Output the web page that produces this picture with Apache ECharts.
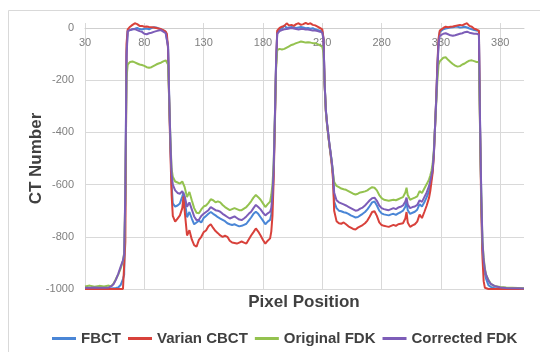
<!DOCTYPE html>
<html>
<head>
<meta charset="utf-8">
<script src="https://cdn.jsdelivr.net/npm/echarts@6/dist/echarts.min.js"></script>
<style>
  html, body { margin: 0; padding: 0; background: #ffffff; }
  #chart { width: 540px; height: 352px; }
</style>
</head>
<body>
<div id="chart"></div>
<script>
// Line profile across the phantom: CT number per pixel position for four reconstructions.

const pixelPos = [
  30, 34, 38, 42, 46, 50, 52, 54, 56, 58, 60, 62, 63, 64, 65,
  66, 68, 70, 72, 74, 76, 78, 80, 82, 84, 86, 88, 90, 92, 94, 96, 98, 99, 100, 101, 102, 103,
  104, 106, 108, 110, 112, 113, 114, 116, 118, 120, 122, 124, 126, 128, 130, 132, 134, 136, 138, 140,
  142, 144, 146, 148, 150, 152, 154, 156, 158, 160, 162, 164, 166, 168, 170, 172, 174, 176, 178, 180, 182, 184, 186,
  187, 188, 189, 190, 191,
  192, 194, 196, 198, 200, 202, 204, 206, 208, 210, 212, 214, 216, 218, 220, 222, 224, 226, 228, 230,
  231, 232, 233, 234, 235, 236, 237, 238, 239,
  240, 242, 244, 246, 248, 250, 252, 254, 256, 258, 260, 262, 264, 266, 268, 270, 272, 274, 276, 278, 280,
  282, 284, 286, 288, 290, 292, 294, 296, 298, 300, 301, 302, 304, 306, 308, 310, 312, 314, 316, 318, 320,
  321, 322, 323, 324, 325, 326, 327, 328, 329,
  330, 332, 334, 336, 338, 340, 342, 344, 346, 348, 350, 352, 354, 356, 358, 360, 362,
  363, 364, 365, 366, 367, 368, 370, 372, 375, 380, 385, 390, 395, 400
];

const fbct = [
  -998, -998, -997, -998, -998, -997, -998, -997, -996, -994, -985, -962, -945, -650, -90,
  -10, -8, -5, -3, 0, -4, -6, -3, -2, -5, 0, 3, 2, -2, -5, -10, -15, -22, -70, -280, -450, -600,
  -672, -684, -680, -672, -645, -630, -660, -725, -705, -730, -752, -745, -738, -745, -728, -720, -712, -705, -712, -718,
  -725, -730, -735, -740, -748, -752, -755, -752, -756, -760, -758, -754, -750, -738, -726, -712, -704, -712, -725, -738, -752, -742, -735,
  -715, -660, -550, -360, -140,
  -18, -5, -2, 10, 0, 2, 4, 2, 0, 2, 4, 2, -1, 0, -3, -1, -5, -8, -10, -12,
  -40, -215, -315, -365, -405, -445, -478, -515, -560,
  -665, -690, -700, -702, -706, -708, -712, -718, -722, -726, -724, -718, -712, -705, -695, -682, -668, -665, -680, -700, -710,
  -714, -716, -718, -714, -712, -716, -710, -706, -700, -685, -665, -698, -712, -708, -704, -696, -675, -684, -668, -648, -625,
  -600, -575, -545, -485, -380, -270, -150, -50, -15,
  -10, -5, -2, 0, 2, 3, 5, 5, 2, 3, 5, 2, -2, -5, -8, -10, -12,
  -380, -650, -850, -905, -940, -960, -985, -992, -996, -997, -998, -998, -999, -999
];

const varianCbct = [
  -1000, -1000, -1000, -1000, -1000, -1000, -1000, -1000, -1000, -1000, -1000, -1000, -996, -820, -60,
  -5, 5, 12, 18, 15, 8, 8, 5, 6, 4, 3, 2, 0, -2, -4, -8, -14, -22, -80, -300, -480, -640,
  -720, -742, -730, -718, -690, -645, -700, -795, -775, -810, -832, -838, -812, -800, -782, -776, -760, -752, -766, -778,
  -786, -795, -800, -796, -800, -815, -822, -824, -826, -822, -818, -822, -826, -810, -795, -782, -768, -780, -795, -812, -826, -815, -806,
  -780, -720, -580, -380, -150,
  -10, 0, 5, 8, 18, 10, 12, 8, 15, 18, 12, 15, 20, 15, 18, 12, 10, 5, 0, -5,
  -40, -220, -320, -370, -410, -450, -485, -525, -580,
  -700, -740, -748, -750, -745, -752, -760, -765, -770, -772, -765, -760, -755, -748, -738, -722, -705, -702, -720, -745, -755,
  -758, -760, -762, -758, -754, -758, -752, -750, -748, -730, -705, -745, -762, -756, -752, -742, -715, -728, -705, -680, -650,
  -625, -590, -555, -490, -385, -270, -140, -40, -10,
  -8, 0, 5, 3, 5, 6, 8, 10, 12, 10, 15, 18, 8, 5, -3, -6, -10,
  -400, -700, -880, -970, -995, -1000, -1000, -1000, -1000, -1000, -1000, -1000, -1000, -1000
];

const originalFdk = [
  -990, -987, -991, -988, -990, -987, -989, -980, -962, -945, -922, -892, -862, -640, -190,
  -140, -130, -128, -132, -136, -140, -142, -145, -150, -152, -150, -145, -140, -136, -133, -128, -124, -126, -140, -280, -430, -540,
  -570, -588, -592, -596, -588, -585, -610, -648, -628, -660, -690, -708, -710, -695, -684, -680, -670, -656, -660, -668,
  -664, -668, -678, -686, -692, -698, -694, -690, -694, -698, -698, -692, -686, -676, -664, -650, -640, -648, -658, -672, -686, -675, -665,
  -640, -600, -520, -350, -160,
  -85, -80, -82, -80, -75, -70, -65, -62, -58, -55, -52, -54, -56, -55, -56, -58, -58, -62, -66, -72,
  -95, -220, -320, -370, -410, -450, -480, -515, -555,
  -590, -605, -610, -615, -618, -620, -625, -630, -635, -638, -635, -630, -628, -626, -622, -615, -610, -612, -622, -640, -652,
  -658, -660, -662, -660, -658, -660, -656, -652, -648, -630, -612, -640, -658, -654, -650, -645, -625, -632, -615, -598, -580,
  -565, -548, -520, -470, -380, -290, -200, -140, -128,
  -125, -114, -112, -122, -130, -138, -144, -148, -146, -140, -136, -130, -125, -124, -127, -130, -130,
  -400, -650, -820, -880, -920, -945, -965, -980, -988, -992, -994, -995, -996, -997
];

const correctedFdk = [
  -995, -995, -994, -995, -995, -994, -990, -982, -965, -942, -915, -890, -868, -620, -110,
  -12, -8, -5, -4, -8, -12, -15, -22, -24, -20, -18, -15, -12, -10, -8, -14, -20, -26, -70, -270, -440, -560,
  -600, -622, -632, -635, -625, -618, -645, -685, -668, -695, -722, -736, -735, -720, -712, -705, -698, -686, -692, -698,
  -700, -704, -712, -718, -724, -730, -726, -722, -728, -734, -736, -730, -722, -712, -704, -690, -678, -686, -695, -708, -718, -710, -704,
  -690, -640, -540, -350, -140,
  -22, -12, -8, -5, -4, -2, 0, -2, -4, -6, -4, -4, -6, -6, -8, -10, -10, -12, -14, -18,
  -45, -215, -315, -365, -405, -445, -478, -512, -555,
  -630, -660, -668, -672, -676, -680, -685, -690, -695, -700, -698, -692, -688, -680, -670, -660, -652, -650, -662, -680, -690,
  -694, -696, -698, -694, -690, -694, -688, -685, -680, -665, -650, -676, -690, -686, -684, -678, -660, -666, -648, -630, -605,
  -585, -565, -540, -480, -380, -280, -160, -60, -30,
  -28, -22, -20, -24, -28, -30, -28, -25, -22, -20, -16, -14, -18, -20, -22, -22, -25,
  -370, -640, -820, -890, -925, -945, -968, -980, -988, -994, -996, -997, -997, -998
];

const seriesNames = ['FBCT', 'Varian CBCT', 'Original FDK', 'Corrected FDK'];
const seriesValues = [fbct, varianCbct, originalFdk, correctedFdk];
const seriesColors = ['#4a86d6', '#d8413b', '#94c24f', '#7d5db8'];

const xTicks = [30, 80, 130, 180, 230, 280, 330, 380];
const yTicks = { min: -1000, max: 0, step: 200 };

const FONT = '"Liberation Sans", Arial, sans-serif';
const GRID_COLOR = '#d9d9d9';

const chart = echarts.init(document.getElementById('chart'), null, { renderer: 'canvas' });

chart.setOption({
  animation: false,
  backgroundColor: '#ffffff',
  textStyle: { fontFamily: FONT },
  grid: { left: 85, right: 16, top: 28, bottom: 63, containLabel: false },
  xAxis: {
    type: 'value',
    position: 'top',
    min: 30,
    max: 400,
    axisLine: { onZero: false, lineStyle: { color: '#cfcfcf', width: 1 } },
    axisTick: { show: true, inside: false, length: 5, customValues: xTicks, lineStyle: { color: GRID_COLOR } },
    axisLabel: { inside: true, customValues: xTicks, color: '#7f7f7f', fontSize: 11, margin: 9, fontFamily: FONT },
    splitLine: { show: true, lineStyle: { color: GRID_COLOR, width: 1 } }
  },
  yAxis: {
    type: 'value',
    min: yTicks.min,
    max: yTicks.max,
    interval: yTicks.step,
    name: 'CT Number',
    nameLocation: 'middle',
    nameGap: 40,
    nameMoveOverlap: false,
    nameTextStyle: { fontSize: 17, fontWeight: 'bold', color: '#404040', fontFamily: FONT },
    axisLine: { show: false },
    axisTick: { show: false },
    axisLabel: {
      color: '#7f7f7f',
      fontSize: 11,
      margin: 11,
      fontFamily: FONT,
      formatter: (v) => String(v)
    },
    splitLine: { show: true, lineStyle: { color: GRID_COLOR, width: 1 } }
  },
  legend: {
    left: 47,
    top: 326,
    itemWidth: 24,
    itemHeight: 3,
    itemGap: 7,
    icon: 'rect',
    textStyle: { fontSize: 15, fontWeight: 'bold', color: '#404040', fontFamily: FONT },
    data: seriesNames
  },
  graphic: [
    {
      type: 'rect',
      silent: true,
      shape: { x: 8.5, y: 10.5, width: 600, height: 400 },
      style: { fill: 'none', stroke: '#d9d9d9', lineWidth: 1 }
    },
    {
      type: 'text',
      silent: true,
      x: 304,
      y: 302,
      style: {
        text: 'Pixel Position',
        fill: '#404040',
        font: 'bold 17px ' + FONT,
        textAlign: 'center',
        textVerticalAlign: 'middle'
      }
    }
  ],
  series: seriesNames.map((name, k) => ({
    name: name,
    type: 'line',
    symbol: 'none',
    clip: false,
    color: seriesColors[k],
    lineStyle: { width: 2, color: seriesColors[k] },
    data: pixelPos.map((x, i) => [x, seriesValues[k][i]])
  }))
});
</script>
</body>
</html>
